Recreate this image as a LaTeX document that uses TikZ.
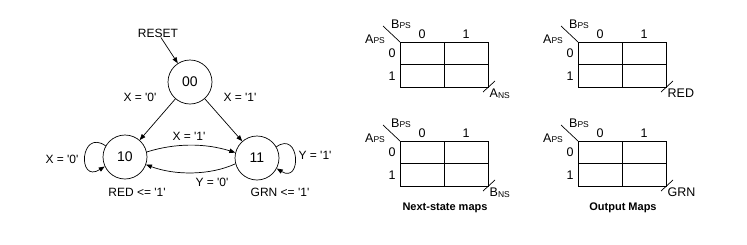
\documentclass[tikz,border=0pt]{standalone}
\usepackage{fontspec}
\setmainfont{Liberation Sans}
\usetikzlibrary{arrows.meta}
\newcommand{\q}{\textquotesingle}
\newcommand{\sub}[2]{#1{\fontsize{8.5}{9}\selectfont #2}}
\newcommand{\subl}[2]{#1\raisebox{-1.2pt}{\fontsize{8.5}{9}\selectfont #2}}
\tikzset{
  state/.style={draw, circle, minimum size=44pt, inner sep=0pt, line width=0.7pt, font=\fontsize{14}{16}\selectfont},
  lbl/.style={inner sep=0pt, font=\fontsize{12}{14}\selectfont},
  klbl/.style={inner sep=0pt, font=\fontsize{12.5}{14}\selectfont},
  ttl/.style={inner sep=0pt, font=\fontsize{11}{13}\selectfont\bfseries},
  arr/.style={line width=0.7pt, -{Triangle[length=6pt,width=4.5pt]}},
  kline/.style={line width=0.9pt}
}
\newcommand{\kmapdraw}[4]{%
  \begin{scope}[shift={(#1,#2)}]
    \coordinate (#4o) at (0,0);
    \coordinate (#4e) at (88,45);
    \draw[kline] (#4o) rectangle (#4e);
    \draw[kline] (44,0) -- (44,45);
    \draw[kline] (0,22.5) -- (88,22.5);
    \coordinate (#4d) at (-17,-16);
    \draw[line width=0.7pt] (#4o) -- (#4d);
    \coordinate (#4s1) at (83,50);
    \coordinate (#4s2) at (95,39);
    \draw[line width=0.7pt] (#4s1) -- (#4s2);
    \node[klbl, anchor=base] (#4b) at (1,-14) {\sub{B}{PS}};
    \node[klbl, anchor=base] (#4a) at (-25,1) {\sub{A}{PS}};
    \node[klbl] (#4c0) at (22,-8) {0};
    \node[klbl] (#4c1) at (66,-8) {1};
    \node[klbl] (#4r0) at (-8,11.2) {0};
    \node[klbl] (#4r1) at (-8,33.7) {1};
    \node[klbl, anchor=base west] (#4out) at (89.5,55) {#3};
  \end{scope}}
\begin{document}
\begin{tikzpicture}[x=1pt,y=-1pt]
\useasboundingbox (0,0) rectangle (747,244);
% state diagram
\node[state] (s00) at (190,82) {00};
\node[state] (s10) at (125,157) {10};
\node[state] (s11) at (257,158) {11};
\node[lbl] (reset) at (158,33) {RESET};
\draw[arr] (reset) -- (s00);
\draw[arr] (s00) -- (s10);
\draw[arr] (s00) -- (s11);
\draw[arr] (s10.13) .. controls (175,143) and (205,143) .. (s11.166);
\draw[arr] (s11.195) .. controls (210,175.5) and (175,175.5) .. (s10.-20);
\draw[arr] (s10.150) .. controls (80,128) and (77,184) .. (s10.205);
\draw[arr] (s11.30) .. controls (300,130) and (302,184) .. (s11.-28);
\node[lbl] (l1) at (140,97) {X = \q0\q};
\node[lbl] (l2) at (240,97) {X = \q1\q};
\node[lbl] (l3) at (189,136) {X = \q1\q};
\node[lbl] (l4) at (212,182) {Y = \q0\q};
\node[lbl] (l5) at (62,159) {X = \q0\q};
\node[lbl] (l6) at (315,155) {Y = \q1\q};
\node[lbl] (o1) at (137,192) {RED <= \q1\q};
\node[lbl] (o2) at (280,192) {GRN <= \q1\q};
% K-maps
\kmapdraw{400}{42}{\subl{A}{NS}}{ka}
\kmapdraw{578}{42}{RED}{kb}
\kmapdraw{400}{141}{\subl{B}{NS}}{kc}
\kmapdraw{578}{141}{GRN}{kd}
\node[ttl] (t1) at (445,208) {Next-state maps};
\node[ttl] (t2) at (623,208) {Output Maps};
\end{tikzpicture}
\end{document}
